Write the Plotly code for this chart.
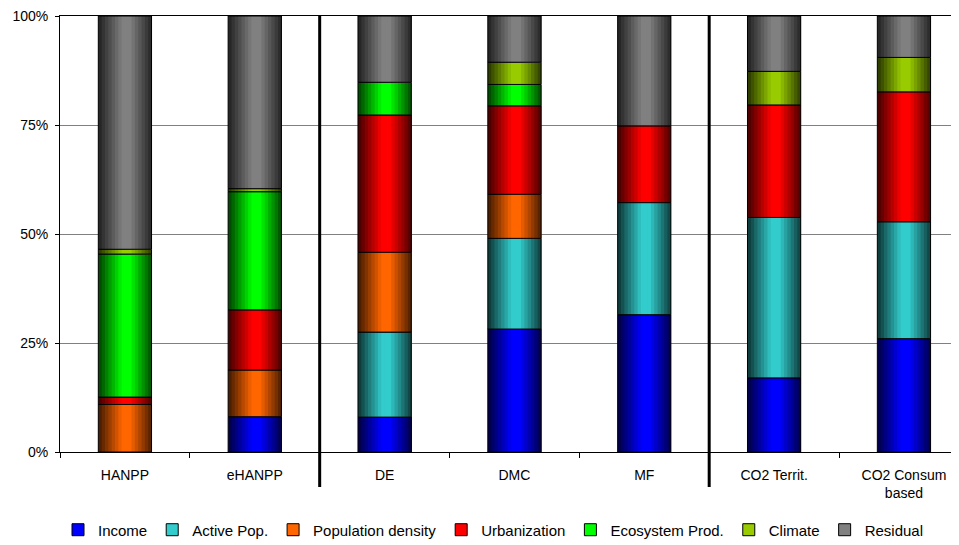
import plotly.graph_objects as go
import numpy as np

# ---------------- data ----------------
categories = ["HANPP", "eHANPP", "DE", "DMC", "MF", "CO2 Territ.", "CO2 Consum<br>based"]
series_names = ["Income", "Active Pop.", "Population density", "Urbanization",
                "Ecosystem Prod.", "Climate", "Residual"]
income       = [0.0, 8.1, 8.0, 28.2, 31.5, 17.0, 26.0]
active_pop   = [0.0, 0.0, 19.5, 20.8, 25.7, 36.8, 26.8]
pop_density  = [10.9, 10.7, 18.3, 10.1, 0.0, 0.0, 0.0]
urbanization = [1.7, 13.8, 31.5, 20.3, 17.6, 25.8, 29.8]
ecosystem    = [32.8, 27.1, 7.5, 4.9, 0.0, 0.0, 0.0]
climate      = [1.1, 0.7, 0.0, 5.1, 0.0, 7.7, 7.9]
residual     = [53.5, 39.6, 15.2, 10.6, 25.2, 12.7, 9.5]
y_tickvals = [0, 25, 50, 75, 100]
y_ticktext = ["0%", "25%", "50%", "75%", "100%"]

# ---------------- style ----------------
colors = ["#0000FF", "#33CCCC", "#FF6600", "#FF0000", "#00FF00", "#99CC00", "#808080"]
FONT = "Liberation Sans, Arial, sans-serif"
BAR_W = 0.41
N_STRIPS = 16

series = [income, active_pop, pop_density, urbanization, ecosystem, climate, residual]
vals = np.array(series, dtype=float)
bases = np.vstack([np.zeros(vals.shape[1]), np.cumsum(vals, axis=0)[:-1]])


def hex_to_rgb(h):
    h = h.lstrip("#")
    return tuple(int(h[i:i + 2], 16) for i in (0, 2, 4))


def shade(t):
    if t < 0.45:
        return 0.25 + 0.75 * (t / 0.45)
    if t < 0.6:
        return 1.0
    return 1.0 - 0.7 * (t - 0.6) / 0.4


fig = go.Figure()

for s, (name, col) in enumerate(zip(series_names, colors)):
    yv = [v if v > 0 else None for v in vals[s]]
    bv = list(bases[s])
    r, g, b = hex_to_rgb(col)
    sw = BAR_W / N_STRIPS
    for k in range(N_STRIPS):
        f = shade((k + 0.5) / N_STRIPS)
        c = f"rgb({int(r * f)},{int(g * f)},{int(b * f)})"
        fig.add_trace(go.Bar(
            x=categories, y=yv, base=bv,
            width=BAR_W - k * sw, offset=-BAR_W / 2 + k * sw,
            marker=dict(color=c, line=dict(width=0)),
            showlegend=False, hoverinfo="skip",
        ))
    # outline
    fig.add_trace(go.Bar(
        x=categories, y=yv, base=bv,
        width=BAR_W, offset=-BAR_W / 2,
        marker=dict(color="rgba(0,0,0,0)", line=dict(color="black", width=1)),
        showlegend=False, name=name,
    ))

# legend entries
for name, col in zip(series_names, colors):
    fig.add_trace(go.Bar(
        x=[None], y=[None], name=name,
        marker=dict(color=col, line=dict(color="black", width=1)),
        showlegend=True,
    ))

# separators
for xs in (1.5, 4.5):
    fig.add_shape(type="line", xref="x", yref="paper", x0=xs, x1=xs, y0=-0.08, y1=1,
                  line=dict(color="black", width=3))

# page body has an 8px default margin, so the figure is sized to fit the window
fig.update_layout(
    width=951, height=537,
    barmode="overlay",
    plot_bgcolor="white", paper_bgcolor="white",
    margin=dict(l=52, r=0, t=8, b=93, autoexpand=False),
    font=dict(family=FONT, size=14, color="black"),
    legend=dict(orientation="h", xref="container", yref="container",
                x=0.51, xanchor="center", y=0.028, yanchor="middle",
                font=dict(size=15, family=FONT), traceorder="normal",
                itemwidth=30),
)
fig.update_xaxes(
    type="category", range=[-0.5, 6.424],
    showline=True, linecolor="black", linewidth=1, mirror=True,
    ticks="outside", tickson="boundaries", ticklen=5, tickcolor="black",
    showgrid=False, ticklabelstandoff=10,
    tickfont=dict(size=14, family=FONT),
)
fig.update_yaxes(
    range=[0, 100], tickvals=y_tickvals, ticktext=y_ticktext,
    showline=True, linecolor="black", linewidth=1,
    ticks="outside", ticklen=4, tickcolor="black", ticklabelstandoff=4,
    ticklabeloverflow="allow",
    showgrid=True, gridcolor="#808080", gridwidth=1, zeroline=False,
    tickfont=dict(size=14, family=FONT),
)

fig.write_html("out.html")
